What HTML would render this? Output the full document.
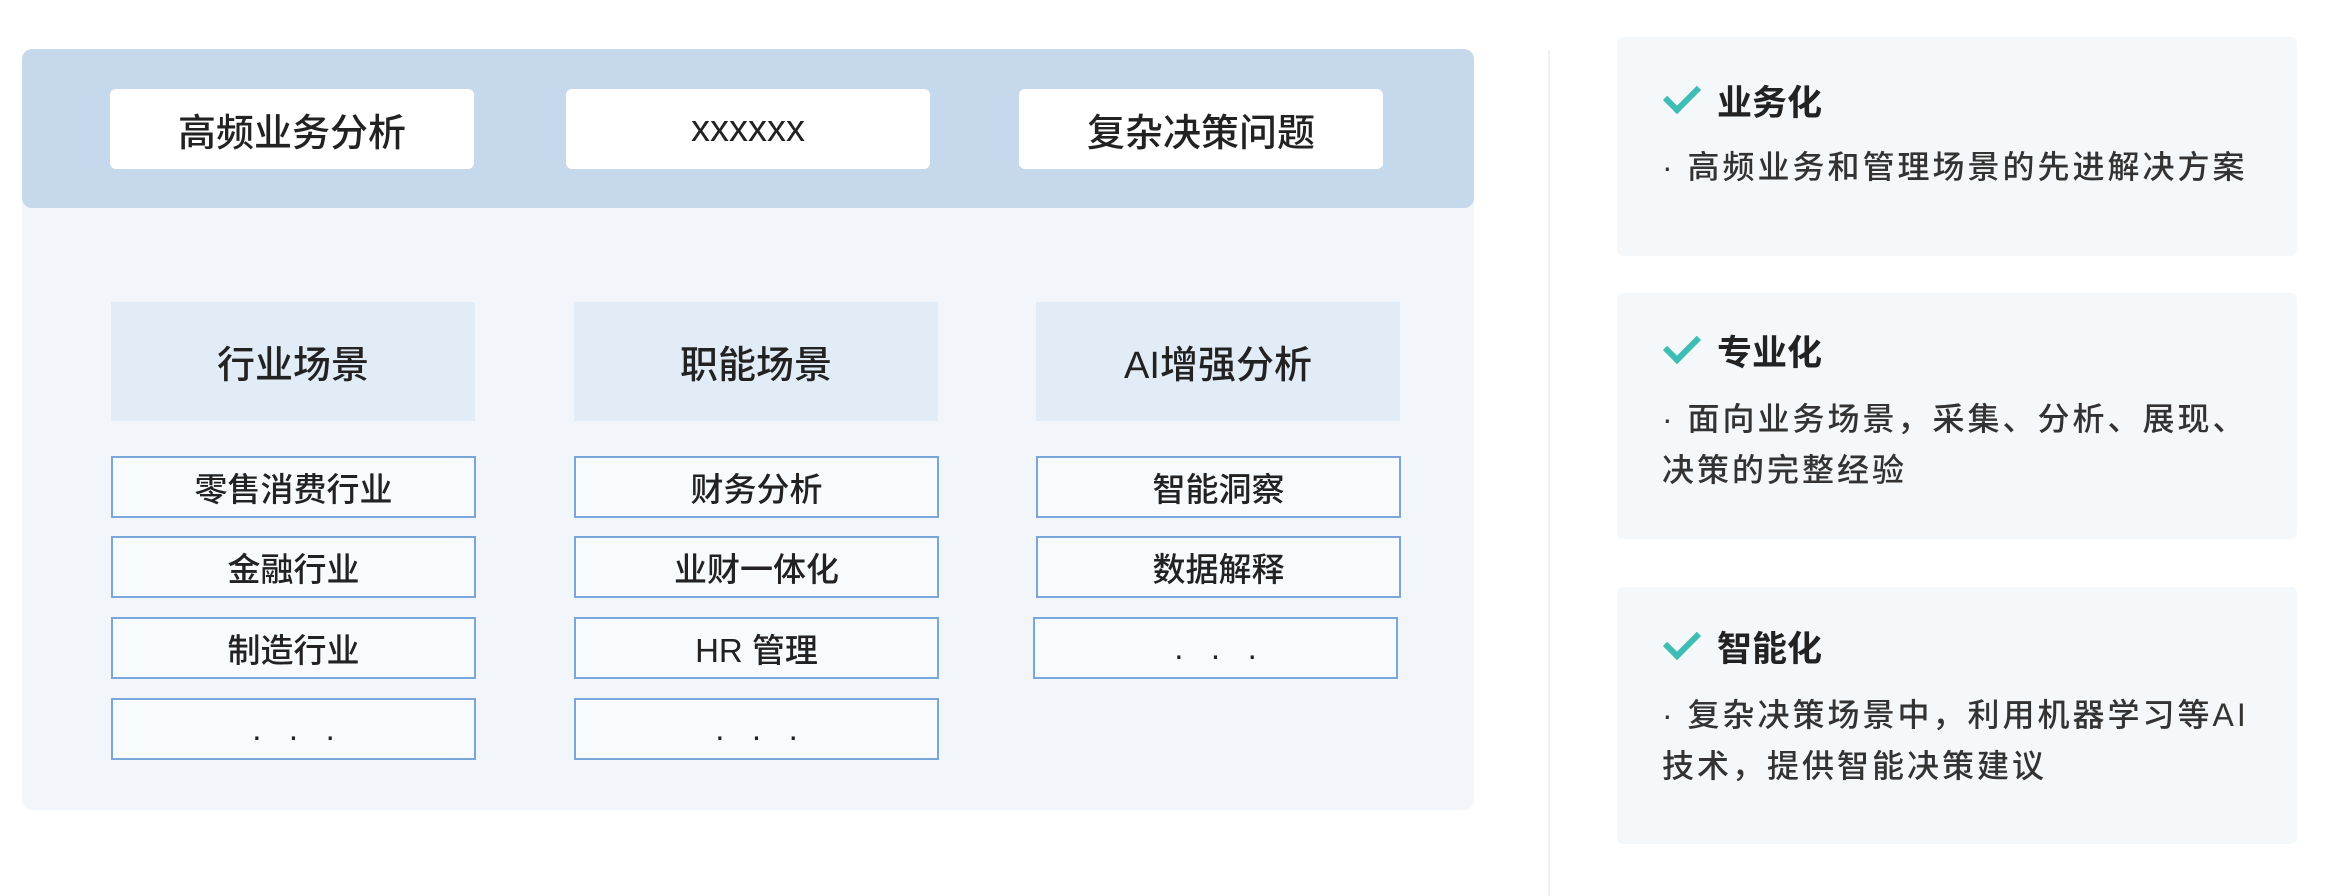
<!DOCTYPE html>
<html><head><meta charset="utf-8"><style>
*{margin:0;padding:0;box-sizing:border-box}
body{width:2330px;height:896px;background:#fff;position:relative;overflow:hidden;font-family:"Liberation Sans","Noto Sans CJK SC",sans-serif;color:#222}
.a{position:absolute;display:flex;align-items:center;justify-content:center;font-weight:500}
.panel{position:absolute;left:22px;top:49px;width:1452px;height:761px;background:#f2f6fb;border-radius:10px}
.band{position:absolute;left:22px;top:49px;width:1452px;height:159px;background:#c6d8eb;border-radius:10px}
.tb{background:#fff;border-radius:6px;font-size:38px;height:80px;top:89px;width:364px}
.hd{background:#e2ecf7;font-size:38px;top:302px;height:119px;width:364px}
.it{background:#f8fbfe;border:2px solid #7ba6da;font-size:33px;height:62px;width:365px}
.card{position:absolute;left:1617px;width:680px;background:#f5f8fa;border-radius:6px}
.t{position:absolute;left:100px;font-size:35px;font-weight:bold;color:#222}
.ck{position:absolute;left:48px;width:34px;height:20px;border-left:6px solid #3dbdb3;border-bottom:6px solid #3dbdb3;transform:rotate(-45deg)}
.b{position:absolute;left:45px;right:20px;font-size:32px;line-height:51px;color:#333;letter-spacing:3px;font-weight:500}
</style></head><body>
<div class="panel"></div>
<div class="band"></div>
<div class="a tb" style="left:110px">高频业务分析</div>
<div class="a tb" style="left:566px">xxxxxx</div>
<div class="a tb" style="left:1019px">复杂决策问题</div>
<div class="a hd" style="left:111px">行业场景</div>
<div class="a hd" style="left:574px">职能场景</div>
<div class="a hd" style="left:1036px">AI增强分析</div>
<div class="a it" style="left:111px;top:456px">零售消费行业</div>
<div class="a it" style="left:111px;top:536px">金融行业</div>
<div class="a it" style="left:111px;top:617px">制造行业</div>
<div class="a it" style="left:111px;top:698px">. &nbsp; . &nbsp; .</div>
<div class="a it" style="left:574px;top:456px">财务分析</div>
<div class="a it" style="left:574px;top:536px">业财一体化</div>
<div class="a it" style="left:574px;top:617px">HR 管理</div>
<div class="a it" style="left:574px;top:698px">. &nbsp; . &nbsp; .</div>
<div class="a it" style="left:1036px;top:456px">智能洞察</div>
<div class="a it" style="left:1036px;top:536px">数据解释</div>
<div class="a it" style="left:1033px;top:617px">. &nbsp; . &nbsp; .</div>
<div style="position:absolute;left:1548px;top:50px;width:2px;height:846px;background:#eef0f2"></div>
<div class="card" style="top:37px;height:219px">
<div class="ck" style="top:48px"></div><div class="t" style="top:38px">业务化</div>
<div class="b" style="top:105px">· 高频业务和管理场景的先进解决方案</div></div>
<div class="card" style="top:293px;height:246px">
<div class="ck" style="top:42px"></div><div class="t" style="top:32px">专业化</div>
<div class="b" style="top:101px">· 面向业务场景，采集、分析、展现、决策的完整经验</div></div>
<div class="card" style="top:587px;height:257px">
<div class="ck" style="top:44px"></div><div class="t" style="top:34px">智能化</div>
<div class="b" style="top:103px">· 复杂决策场景中，利用机器学习等AI技术，提供智能决策建议</div></div>
</body></html>
